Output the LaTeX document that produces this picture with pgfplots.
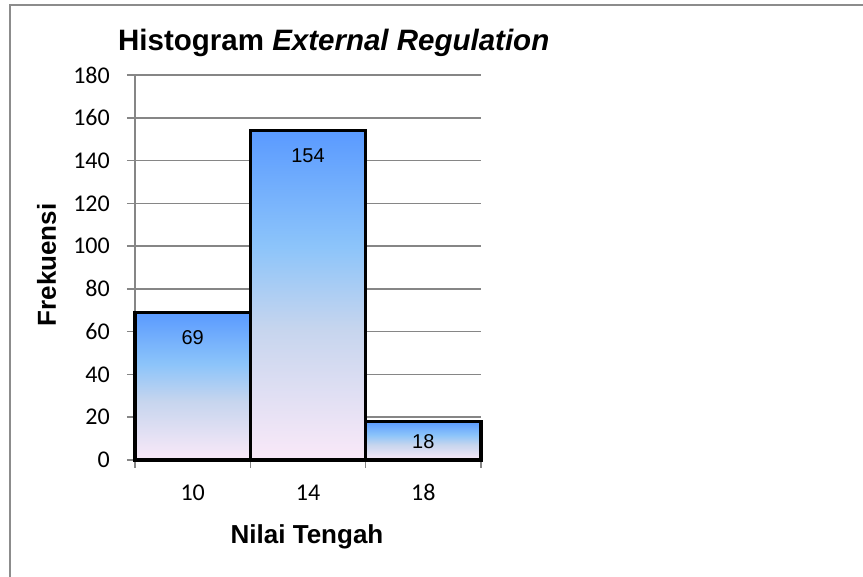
\documentclass[border=0pt]{standalone}
\usepackage{pgfplots}
\pgfplotsset{compat=1.18}
\usepackage{fontspec}
\setmainfont{Liberation Sans}
\newfontfamily\calibri{Carlito}

\definecolor{gridgray}{HTML}{868686}
\definecolor{framegray}{HTML}{8C8C8C}
\definecolor{gtop}{HTML}{5A9AFF}
\definecolor{gmida}{HTML}{8CC4FA}
\definecolor{gmidb}{HTML}{C6D5EE}
\definecolor{gbot}{HTML}{FAE9F8}
% bar fill: blue at the top fading to a pale pink at the base
\pgfdeclareverticalshading{bargrad}{100bp}{color(0bp)=(gbot); color(25bp)=(gbot);
  color(45bp)=(gmidb); color(57.5bp)=(gmida); color(75bp)=(gtop); color(100bp)=(gtop)}

\begin{document}
\begin{tikzpicture}[x=1pt,y=1pt]
  \useasboundingbox (0,0) rectangle (863,577);
  \begin{scope}
    \clip (0,0) rectangle (863,577);
    \draw[framegray, line width=2pt] (10,-10) -- (10,572) -- (880,572);
  \end{scope}

  \begin{axis}[
      at={(135pt,117pt)}, anchor=south west,
      scale only axis, width=346pt, height=385pt,
      xmin=8, xmax=20, ymin=0, ymax=180,
      axis x line*=bottom, axis y line*=left,
      axis line style={-, gridgray, line width=1.5pt},
      ytick={0,20,...,180},
      xtick={8,12,16,20}, xticklabels={},
      extra x ticks={10,14,18},
      extra x tick labels={10,14,18},
      extra x tick style={major tick length=0pt, grid=none},
      tick align=outside, major tick length=8pt,
      tick style={gridgray, line width=1.5pt},
      ymajorgrids, grid style={gridgray, line width=1.5pt},
      /pgf/number format/assume math mode=true,
      yticklabel style={font=\calibri\fontsize{24}{28}\selectfont, anchor=east, inner sep=0pt, xshift=-17pt},
      xticklabel style={font=\calibri\fontsize{24}{28}\selectfont, anchor=base, inner sep=0pt, yshift=-40.7pt},
      nodes near coords={\normalfont\fontsize{20}{24}\selectfont\pgfmathprintnumber{\pgfplotspointmeta}},
      every node near coord/.append style={anchor=north, inner sep=0pt, text=black},
      bars/.style={ybar, bar width=4, bar shift=0pt, draw=black, line width=3.5pt, shading=bargrad},
      clip=false,
    ]
    % one plot per bar so each bar gets its own gradient
    \addplot[bars, every node near coord/.append style={yshift=-16.5pt}] coordinates {(10,69)};
    \addplot[bars, every node near coord/.append style={yshift=-16.5pt}] coordinates {(14,154)};
    \addplot[bars, every node near coord/.append style={yshift=-11.5pt}] coordinates {(18,18)};
  \end{axis}

  \node[anchor=base west, inner sep=0pt, font=\bfseries\fontsize{29.5}{34}\selectfont] at (118,526.5)
    {Histogram \textit{External Regulation}};
  \node[anchor=base, rotate=90, inner sep=0pt, font=\bfseries\fontsize{26}{30}\selectfont] at (56,312) {Frekuensi};
  \node[anchor=base, inner sep=0pt, font=\bfseries\fontsize{26}{30}\selectfont] at (307,33) {Nilai Tengah};
\end{tikzpicture}
\end{document}
